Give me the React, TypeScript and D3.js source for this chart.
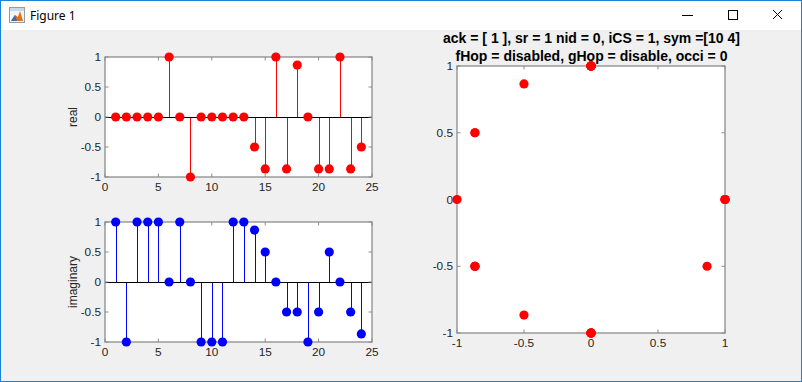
import React from "react";
import * as d3 from "d3";

const indices = d3.range(1, 25);
const realValues = [0, 0, 0, 0, 0, 1, 0, -1, 0, 0, 0, 0, 0, -0.5, -0.866, 1, -0.866, 0.866, 0, -0.866, -0.866, 1, -0.866, -0.5];
const imagValues = [1, -1, 1, 1, 1, 0, 1, 0, -1, -1, -1, 1, 1, 0.866, 0.5, 0, -0.5, -0.5, -1, -0.5, 0.5, 0, -0.5, -0.866];
const stemXTicks = [0, 5, 10, 15, 20, 25];
const unitTicks = [-1, -0.5, 0, 0.5, 1];
const titleLines = ["ack = [ 1 ], sr = 1 nid = 0, iCS = 1, sym =[10 4]", "fHop = disabled, gHop = disable, occi = 0"];

const W = 802, H = 382;
const FONT = "'Liberation Sans', Arial, Helvetica, sans-serif";
const TXT = "#262626";
const BOX = "#8c8c8c";
const FS = 11.8;

function Box({ x, y, w, h, xTicks, yTicks, xs, ys }: any) {
  const tl = 3.5;
  return (
    <g>
      <rect x={x} y={y} width={w} height={h} fill="none" stroke={BOX} strokeWidth={1.3} />
      {xTicks.map((t: number) => (
        <g key={"xt" + t}>
          <line x1={xs(t)} x2={xs(t)} y1={y + h} y2={y + h - tl} stroke={BOX} />
          <line x1={xs(t)} x2={xs(t)} y1={y} y2={y + tl} stroke={BOX} />
          <text x={xs(t)} y={y + h + 13.5} textAnchor="middle" fontSize={FS} fill={TXT} fontFamily={FONT}>{String(t)}</text>
        </g>
      ))}
      {yTicks.map((t: number) => (
        <g key={"yt" + t}>
          <line x1={x} x2={x + tl} y1={ys(t)} y2={ys(t)} stroke={BOX} />
          <line x1={x + w} x2={x + w - tl} y1={ys(t)} y2={ys(t)} stroke={BOX} />
          <text x={x - 4} y={ys(t) + 4} textAnchor="end" fontSize={FS} fill={TXT} fontFamily={FONT}>{String(t)}</text>
        </g>
      ))}
    </g>
  );
}

function Stem({ top, values, color, label }: any) {
  const left = 105, right = 372, bottom = top + 120;
  const xs = d3.scaleLinear().domain([0, 25]).range([left, right]);
  const ys = d3.scaleLinear().domain([-1, 1]).range([bottom, top]);
  return (
    <g>
      <rect x={left} y={top} width={right - left} height={bottom - top} fill="#fff" />
      {indices.map((i, k) => (
        <line key={"s" + i} x1={Math.round(xs(i)) + 0.5} x2={Math.round(xs(i)) + 0.5} y1={ys(0)} y2={ys(values[k])} stroke={color} strokeWidth={1} />
      ))}
      <line x1={left} x2={right} y1={Math.round(ys(0)) + 0.5} y2={Math.round(ys(0)) + 0.5} stroke="#000" strokeWidth={1} />
      <Box x={left} y={top} w={right - left} h={bottom - top} xTicks={stemXTicks} yTicks={unitTicks} xs={xs} ys={ys} />
      {indices.map((i, k) => (
        <circle key={"m" + i} cx={xs(i)} cy={ys(values[k])} r={4.6} fill={color} />
      ))}
      <text transform={`translate(77,${(top + bottom) / 2}) rotate(-90)`} textAnchor="middle" fontSize={12} fill={TXT} fontFamily={FONT}>{label}</text>
    </g>
  );
}

function Scatter() {
  const left = 457, right = 725, top = 66, bottom = 333;
  const xs = d3.scaleLinear().domain([-1, 1]).range([left, right]);
  const ys = d3.scaleLinear().domain([-1, 1]).range([bottom, top]);
  return (
    <g>
      <rect x={left} y={top} width={right - left} height={bottom - top} fill="#fff" />
      <Box x={left} y={top} w={right - left} h={bottom - top} xTicks={unitTicks} yTicks={unitTicks} xs={xs} ys={ys} />
      {indices.map((i, k) => (
        <circle key={"p" + i} cx={xs(realValues[k])} cy={ys(imagValues[k])} r={4.6} fill="#ff0000" />
      ))}
      {titleLines.map((t, k) => (
        <text key={t} x={(left + right) / 2 + 0.5} y={42.5 + k * 18} textAnchor="middle" fontSize={14} fontWeight="bold" fill="#000" fontFamily={FONT}>{t}</text>
      ))}
    </g>
  );
}

export default function App() {
  return (
    <svg width={W} height={H} style={{ position: "absolute", left: 0, top: 0 }}>
      <rect x={0} y={0} width={W} height={H} fill="#f0f0f0" />
      <rect x={0} y={0} width={W} height={30} fill="#ffffff" />
      {/* icon */}
      <rect x={9.5} y={7.5} width={15} height={15} fill="#f4f4f4" stroke="#9a9a9a" />
      <rect x={10} y={8} width={14} height={3} fill="#c8d8ea" />
      <path d="M11 21 L15 15 L18 17 L20 11 L23 21 Z" fill="#e0701a" />
      <path d="M11 21 L15 15 L17 21 Z" fill="#3a6fb0" />
      <text x={30} y={20} fontSize={12} fill="#000" fontFamily="'Noto Sans', 'DejaVu Sans', sans-serif">Figure 1</text>
      {/* window buttons */}
      <line x1={682} x2={693} y1={15.5} y2={15.5} stroke="#000" />
      <rect x={728.5} y={10.5} width={9} height={9} fill="none" stroke="#000" />
      <line x1={773} x2={782} y1={10} y2={19} stroke="#000" />
      <line x1={782} x2={773} y1={10} y2={19} stroke="#000" />
      <Stem top={57} values={realValues} color="#ff0000" label="real" />
      <Stem top={222} values={imagValues} color="#0000ff" label="imaginary" />
      <Scatter />
      <rect x={0.5} y={0.5} width={W - 1} height={H - 1} fill="none" stroke="#1883d7" />
    </svg>
  );
}
